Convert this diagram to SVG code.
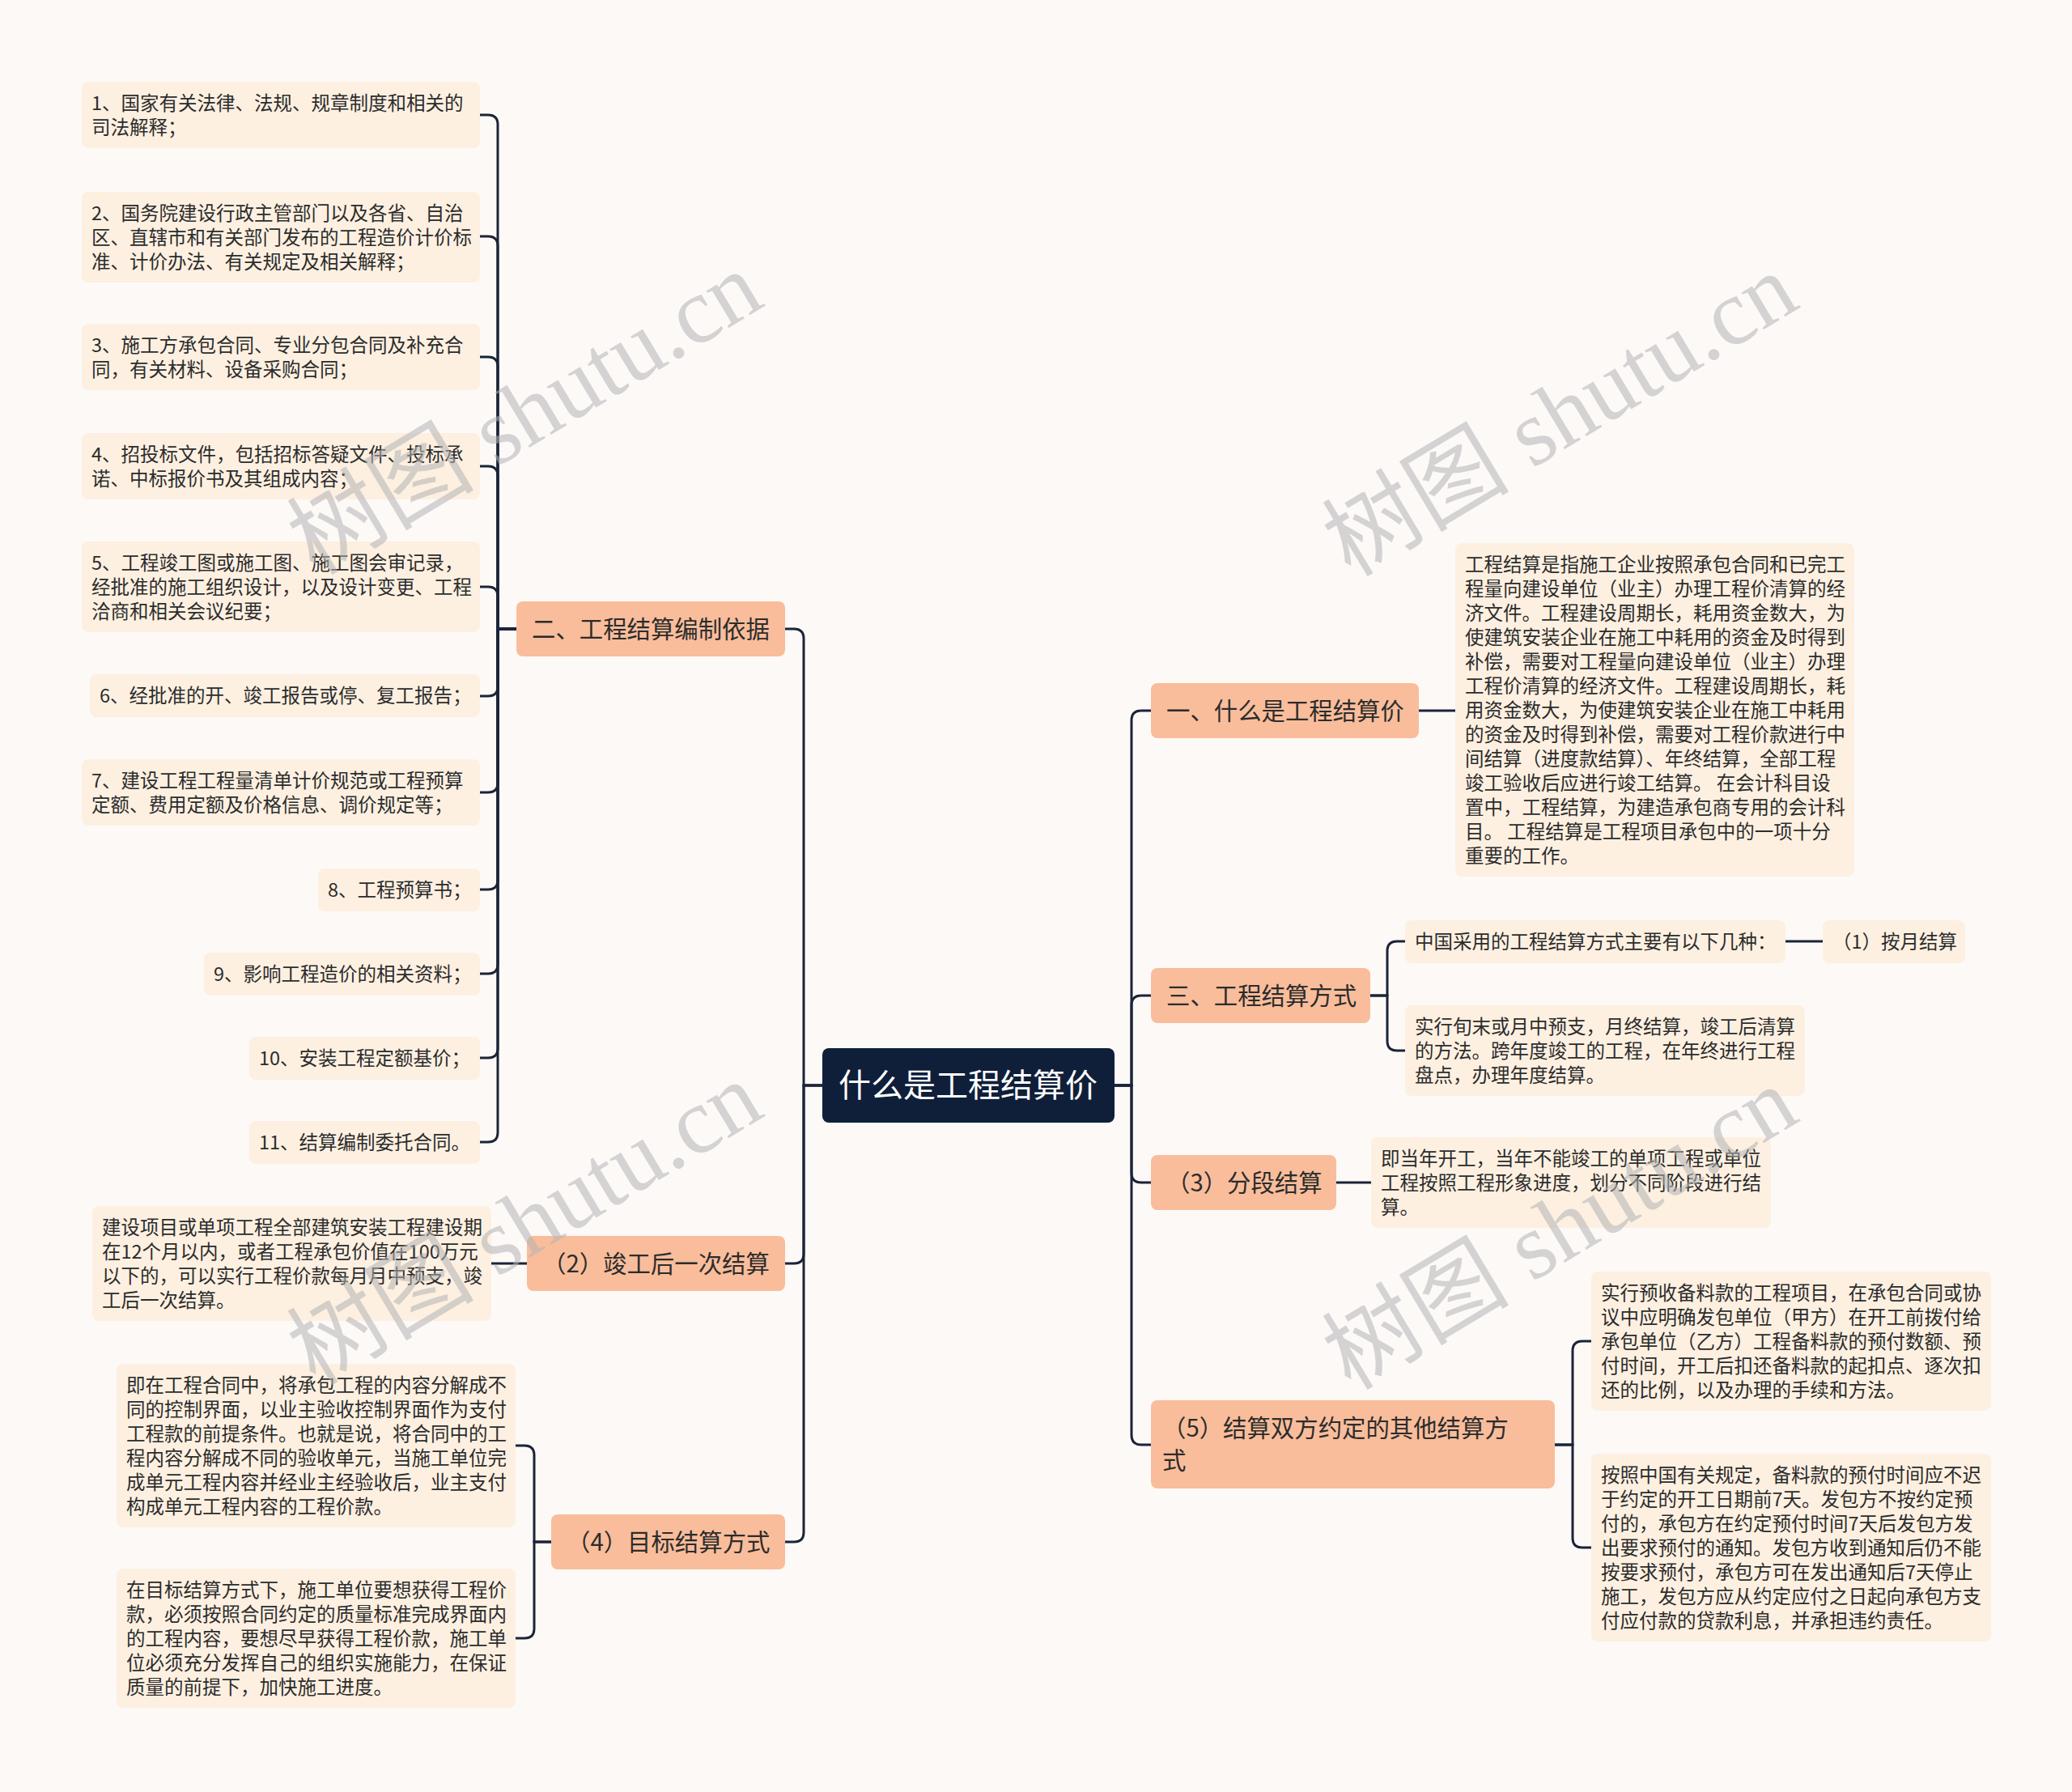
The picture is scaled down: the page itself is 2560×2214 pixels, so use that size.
<svg xmlns="http://www.w3.org/2000/svg" width="2560" height="2214" viewBox="0 0 2560 2214">
<style>
text{font-family:"Noto Sans CJK SC","Noto Sans",sans-serif}
.leaf rect{fill:#fdf0e1}
.leaf text{font-size:23.5px;fill:#2c2c2c}
.branch rect{fill:#f9bd9b}
.branch text{font-size:29.4px;fill:#2c2c2c}
.root rect{fill:#0f1f3a}
.root text{font-size:40px;fill:#ffffff}
.conn path{fill:none;stroke:#1b2438;stroke-width:3}
.wm text{font-family:"Liberation Serif","Noto Sans CJK SC",serif;font-size:116px;fill:#b4b4b4;opacity:0.55}
</style>
<rect x="0" y="0" width="2560" height="2214" fill="#fdf9f7"/>
<g id="connectors" class="conn">
<path d="M1016,1341 H993 V789 Q993,777 981,777 H970"/>
<path d="M1016,1341 H993 V1549 Q993,1561 981,1561 H970"/>
<path d="M1016,1341 H993 V1893 Q993,1905 981,1905 H970"/>
<path d="M1377,1341 H1398 V890 Q1398,878 1410,878 H1422"/>
<path d="M1377,1341 H1398 V1242 Q1398,1230 1410,1230 H1422"/>
<path d="M1377,1341 H1398 V1449 Q1398,1461 1410,1461 H1422"/>
<path d="M1377,1341 H1398 V1773 Q1398,1785 1410,1785 H1422"/>
<path d="M638,777 H615 V154 Q615,142 603,142 H593"/>
<path d="M638,777 H615 V304 Q615,292 603,292 H593"/>
<path d="M638,777 H615 V453 Q615,441 603,441 H593"/>
<path d="M638,777 H615 V588 Q615,576 603,576 H593"/>
<path d="M638,777 H615 V737 Q615,725 603,725 H593"/>
<path d="M638,777 H615 V848 Q615,860 603,860 H593"/>
<path d="M638,777 H615 V967 Q615,979 603,979 H593"/>
<path d="M638,777 H615 V1087 Q615,1099 603,1099 H593"/>
<path d="M638,777 H615 V1191 Q615,1203 603,1203 H593"/>
<path d="M638,777 H615 V1295 Q615,1307 603,1307 H593"/>
<path d="M638,777 H615 V1399 Q615,1411 603,1411 H593"/>
<path d="M651,1561 H607"/>
<path d="M681,1905 H660 V1798 Q660,1786 648,1786 H637"/>
<path d="M681,1905 H660 V2012 Q660,2024 648,2024 H637"/>
<path d="M1753,878 H1798"/>
<path d="M1693,1230 H1714 V1175 Q1714,1163 1726,1163 H1736"/>
<path d="M1693,1230 H1714 V1286 Q1714,1298 1726,1298 H1736"/>
<path d="M2206,1163 H2252"/>
<path d="M1651,1461 H1694"/>
<path d="M1921,1785 H1943 V1669 Q1943,1657 1955,1657 H1966"/>
<path d="M1921,1785 H1943 V1900 Q1943,1912 1955,1912 H1966"/>
</g>
<g id="root" class="root">
<rect x="1016" y="1295" width="361" height="92" rx="8"/>
<text x="1196" y="1355" text-anchor="middle">什么是工程结算价</text>
</g>
<g id="b-2" class="branch">
<rect x="638" y="743" width="332" height="68" rx="8"/>
<text x="657" y="788">二、工程结算编制依据</text>
</g>
<g id="b-jg" class="branch">
<rect x="651" y="1527" width="319" height="68" rx="8"/>
<text x="670" y="1572">（2）竣工后一次结算</text>
</g>
<g id="b-mb" class="branch">
<rect x="681" y="1871" width="289" height="68" rx="8"/>
<text x="700" y="1916">（4）目标结算方式</text>
</g>
<g id="b-1" class="branch">
<rect x="1422" y="844" width="331" height="68" rx="8"/>
<text x="1441" y="889">一、什么是工程结算价</text>
</g>
<g id="b-3" class="branch">
<rect x="1422" y="1196" width="271" height="68" rx="8"/>
<text x="1441" y="1241">三、工程结算方式</text>
</g>
<g id="b-fd" class="branch">
<rect x="1422" y="1427" width="229" height="68" rx="8"/>
<text x="1441" y="1472">（3）分段结算</text>
</g>
<g id="b-qt" class="branch">
<rect x="1422" y="1730" width="499" height="109" rx="8"/>
<text x="1436" y="1775">（5）结算双方约定的其他结算方</text>
<text x="1436" y="1815">式</text>
</g>
<g id="l1" class="leaf">
<rect x="101" y="101" width="492" height="82" rx="8"/>
<text x="113" y="136">1、国家有关法律、法规、规章制度和相关的</text>
<text x="113" y="166">司法解释；</text>
</g>
<g id="l2" class="leaf">
<rect x="101" y="237" width="492" height="112" rx="8"/>
<text x="113" y="272">2、国务院建设行政主管部门以及各省、自治</text>
<text x="113" y="302">区、直辖市和有关部门发布的工程造价计价标</text>
<text x="113" y="332">准、计价办法、有关规定及相关解释；</text>
</g>
<g id="l3" class="leaf">
<rect x="101" y="400" width="492" height="82" rx="8"/>
<text x="113" y="435">3、施工方承包合同、专业分包合同及补充合</text>
<text x="113" y="465">同，有关材料、设备采购合同；</text>
</g>
<g id="l4" class="leaf">
<rect x="101" y="535" width="492" height="82" rx="8"/>
<text x="113" y="570">4、招投标文件，包括招标答疑文件、投标承</text>
<text x="113" y="600">诺、中标报价书及其组成内容；</text>
</g>
<g id="l5" class="leaf">
<rect x="101" y="669" width="492" height="112" rx="8"/>
<text x="113" y="704">5、工程竣工图或施工图、施工图会审记录，</text>
<text x="113" y="734">经批准的施工组织设计，以及设计变更、工程</text>
<text x="113" y="764">洽商和相关会议纪要；</text>
</g>
<g id="l6" class="leaf">
<rect x="111" y="833" width="482" height="53" rx="8"/>
<text x="123" y="868">6、经批准的开、竣工报告或停、复工报告；</text>
</g>
<g id="l7" class="leaf">
<rect x="101" y="938" width="492" height="82" rx="8"/>
<text x="113" y="973">7、建设工程工程量清单计价规范或工程预算</text>
<text x="113" y="1003">定额、费用定额及价格信息、调价规定等；</text>
</g>
<g id="l8" class="leaf">
<rect x="393" y="1073" width="200" height="53" rx="8"/>
<text x="405" y="1108">8、工程预算书；</text>
</g>
<g id="l9" class="leaf">
<rect x="252" y="1177" width="341" height="53" rx="8"/>
<text x="264" y="1212">9、影响工程造价的相关资料；</text>
</g>
<g id="l10" class="leaf">
<rect x="308" y="1281" width="285" height="53" rx="8"/>
<text x="320" y="1316">10、安装工程定额基价；</text>
</g>
<g id="l11" class="leaf">
<rect x="308" y="1385" width="285" height="53" rx="8"/>
<text x="320" y="1420">11、结算编制委托合同。</text>
</g>
<g id="ll1" class="leaf">
<rect x="114" y="1490" width="493" height="142" rx="8"/>
<text x="126" y="1525">建设项目或单项工程全部建筑安装工程建设期</text>
<text x="126" y="1555">在12个月以内，或者工程承包价值在100万元</text>
<text x="126" y="1585">以下的，可以实行工程价款每月月中预支，竣</text>
<text x="126" y="1615">工后一次结算。</text>
</g>
<g id="ll2" class="leaf">
<rect x="144" y="1685" width="493" height="202" rx="8"/>
<text x="156" y="1720">即在工程合同中，将承包工程的内容分解成不</text>
<text x="156" y="1750">同的控制界面，以业主验收控制界面作为支付</text>
<text x="156" y="1780">工程款的前提条件。也就是说，将合同中的工</text>
<text x="156" y="1810">程内容分解成不同的验收单元，当施工单位完</text>
<text x="156" y="1840">成单元工程内容并经业主经验收后，业主支付</text>
<text x="156" y="1870">构成单元工程内容的工程价款。</text>
</g>
<g id="ll3" class="leaf">
<rect x="144" y="1938" width="493" height="172" rx="8"/>
<text x="156" y="1973">在目标结算方式下，施工单位要想获得工程价</text>
<text x="156" y="2003">款，必须按照合同约定的质量标准完成界面内</text>
<text x="156" y="2033">的工程内容，要想尽早获得工程价款，施工单</text>
<text x="156" y="2063">位必须充分发挥自己的组织实施能力，在保证</text>
<text x="156" y="2093">质量的前提下，加快施工进度。</text>
</g>
<g id="r1" class="leaf">
<rect x="1798" y="671" width="493" height="412" rx="8"/>
<text x="1810" y="706">工程结算是指施工企业按照承包合同和已完工</text>
<text x="1810" y="736">程量向建设单位（业主）办理工程价清算的经</text>
<text x="1810" y="766">济文件。工程建设周期长，耗用资金数大，为</text>
<text x="1810" y="796">使建筑安装企业在施工中耗用的资金及时得到</text>
<text x="1810" y="826">补偿，需要对工程量向建设单位（业主）办理</text>
<text x="1810" y="856">工程价清算的经济文件。工程建设周期长，耗</text>
<text x="1810" y="886">用资金数大，为使建筑安装企业在施工中耗用</text>
<text x="1810" y="916">的资金及时得到补偿，需要对工程价款进行中</text>
<text x="1810" y="946">间结算（进度款结算）、年终结算，全部工程</text>
<text x="1810" y="976">竣工验收后应进行竣工结算。 在会计科目设</text>
<text x="1810" y="1006">置中，工程结算，为建造承包商专用的会计科</text>
<text x="1810" y="1036">目。 工程结算是工程项目承包中的一项十分</text>
<text x="1810" y="1066">重要的工作。</text>
</g>
<g id="r2" class="leaf">
<rect x="1736" y="1137" width="470" height="53" rx="8"/>
<text x="1748" y="1172">中国采用的工程结算方式主要有以下几种：</text>
</g>
<g id="r3" class="leaf">
<rect x="2252" y="1137" width="176" height="53" rx="8"/>
<text x="2264" y="1172">（1）按月结算</text>
</g>
<g id="r4" class="leaf">
<rect x="1736" y="1242" width="494" height="112" rx="8"/>
<text x="1748" y="1277">实行旬末或月中预支，月终结算，竣工后清算</text>
<text x="1748" y="1307">的方法。跨年度竣工的工程，在年终进行工程</text>
<text x="1748" y="1337">盘点，办理年度结算。</text>
</g>
<g id="r5" class="leaf">
<rect x="1694" y="1405" width="494" height="112" rx="8"/>
<text x="1706" y="1440">即当年开工，当年不能竣工的单项工程或单位</text>
<text x="1706" y="1470">工程按照工程形象进度，划分不同阶段进行结</text>
<text x="1706" y="1500">算。</text>
</g>
<g id="r6" class="leaf">
<rect x="1966" y="1571" width="494" height="172" rx="8"/>
<text x="1978" y="1606">实行预收备料款的工程项目，在承包合同或协</text>
<text x="1978" y="1636">议中应明确发包单位（甲方）在开工前拨付给</text>
<text x="1978" y="1666">承包单位（乙方）工程备料款的预付数额、预</text>
<text x="1978" y="1696">付时间，开工后扣还备料款的起扣点、逐次扣</text>
<text x="1978" y="1726">还的比例，以及办理的手续和方法。</text>
</g>
<g id="r7" class="leaf">
<rect x="1966" y="1796" width="494" height="232" rx="8"/>
<text x="1978" y="1831">按照中国有关规定，备料款的预付时间应不迟</text>
<text x="1978" y="1861">于约定的开工日期前7天。发包方不按约定预</text>
<text x="1978" y="1891">付的，承包方在约定预付时间7天后发包方发</text>
<text x="1978" y="1921">出要求预付的通知。发包方收到通知后仍不能</text>
<text x="1978" y="1951">按要求预付，承包方可在发出通知后7天停止</text>
<text x="1978" y="1981">施工，发包方应从约定应付之日起向承包方支</text>
<text x="1978" y="2011">付应付款的贷款利息，并承担违约责任。</text>
</g>
<g id="watermark" class="wm">
<text transform="translate(648,510) rotate(-31)" x="0" y="40" text-anchor="middle">树图 shutu.cn</text>
<text transform="translate(648,1511) rotate(-31)" x="0" y="40" text-anchor="middle">树图 shutu.cn</text>
<text transform="translate(1927,512) rotate(-31)" x="0" y="40" text-anchor="middle">树图 shutu.cn</text>
<text transform="translate(1927,1517) rotate(-31)" x="0" y="40" text-anchor="middle">树图 shutu.cn</text>
</g>
</svg>
